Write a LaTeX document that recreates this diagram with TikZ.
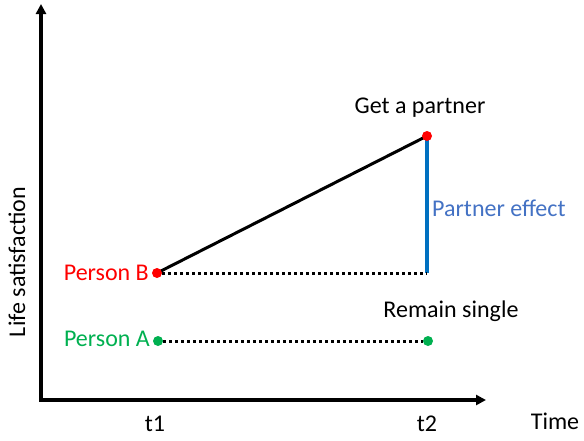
\documentclass[tikz,border=0pt]{standalone}
\usepackage{fontspec}
\setmainfont{Carlito}
\usetikzlibrary{arrows.meta}
\definecolor{cred}{RGB}{255,0,0}
\definecolor{cgreen}{RGB}{0,176,80}
\definecolor{cbluetext}{RGB}{68,114,196}
\definecolor{cblueline}{RGB}{0,112,192}
\tikzset{
  axis/.style={line width=3.2pt,-{Triangle[length=10pt,width=10pt]}},
  dotline/.style={line width=3pt,dash pattern=on 3pt off 3pt},
  lbl/.style={font=\fontsize{24}{26}\selectfont,inner sep=0pt},
  dotpt/.style={circle,fill=#1,minimum size=10pt,inner sep=0pt}
}
\begin{document}
\begin{tikzpicture}[x=1pt,y=-1pt]
\useasboundingbox (0,0) rectangle (584,440);
\coordinate (O) at (41,400);
\coordinate (Ytop) at (41,4);
\coordinate (Xend) at (486,400);
\draw[axis,line cap=rect] (O) -- (Ytop);
\draw[axis] (O) -- (Xend);
\coordinate (B) at (157,273);
\coordinate (P) at (427,136);
\coordinate (Bend) at (427,273);
\coordinate (A) at (158,341);
\coordinate (A2) at (428,341);
\draw[line width=3pt] (B) -- (P);
\draw[line width=3.2pt,cblueline] (P) -- (Bend);
\draw[dotline] ([xshift=5pt]B) -- (Bend);
\draw[dotline] ([xshift=5pt]A) -- ([xshift=-5pt]A2);
\node[dotpt=cred] (Bdot) at (B) {};
\node[dotpt=cred] (Pdot) at (P) {};
\node[dotpt=cgreen] (Adot) at (A) {};
\node[dotpt=cgreen] (A2dot) at (A2) {};
\node[lbl,anchor=east,text=cred] (lB) at (149,273) {Person B};
\node[lbl,anchor=east,text=cgreen] (lA) at (150,339) {Person A};
\node[lbl] (lP) at (420,108) {Get a partner};
\node[lbl,anchor=west,text=cbluetext] (lE) at (432,208) {Partner effect};
\node[lbl] (lS) at (451,311) {Remain single};
\node[lbl] (t1) at (155,424) {t1};
\node[lbl] (t2) at (427,424) {t2};
\node[lbl] (tm) at (555,421) {Time};
\node[lbl,rotate=90] (ls) at (17,262) {Life satisfaction};
\end{tikzpicture}
\end{document}
